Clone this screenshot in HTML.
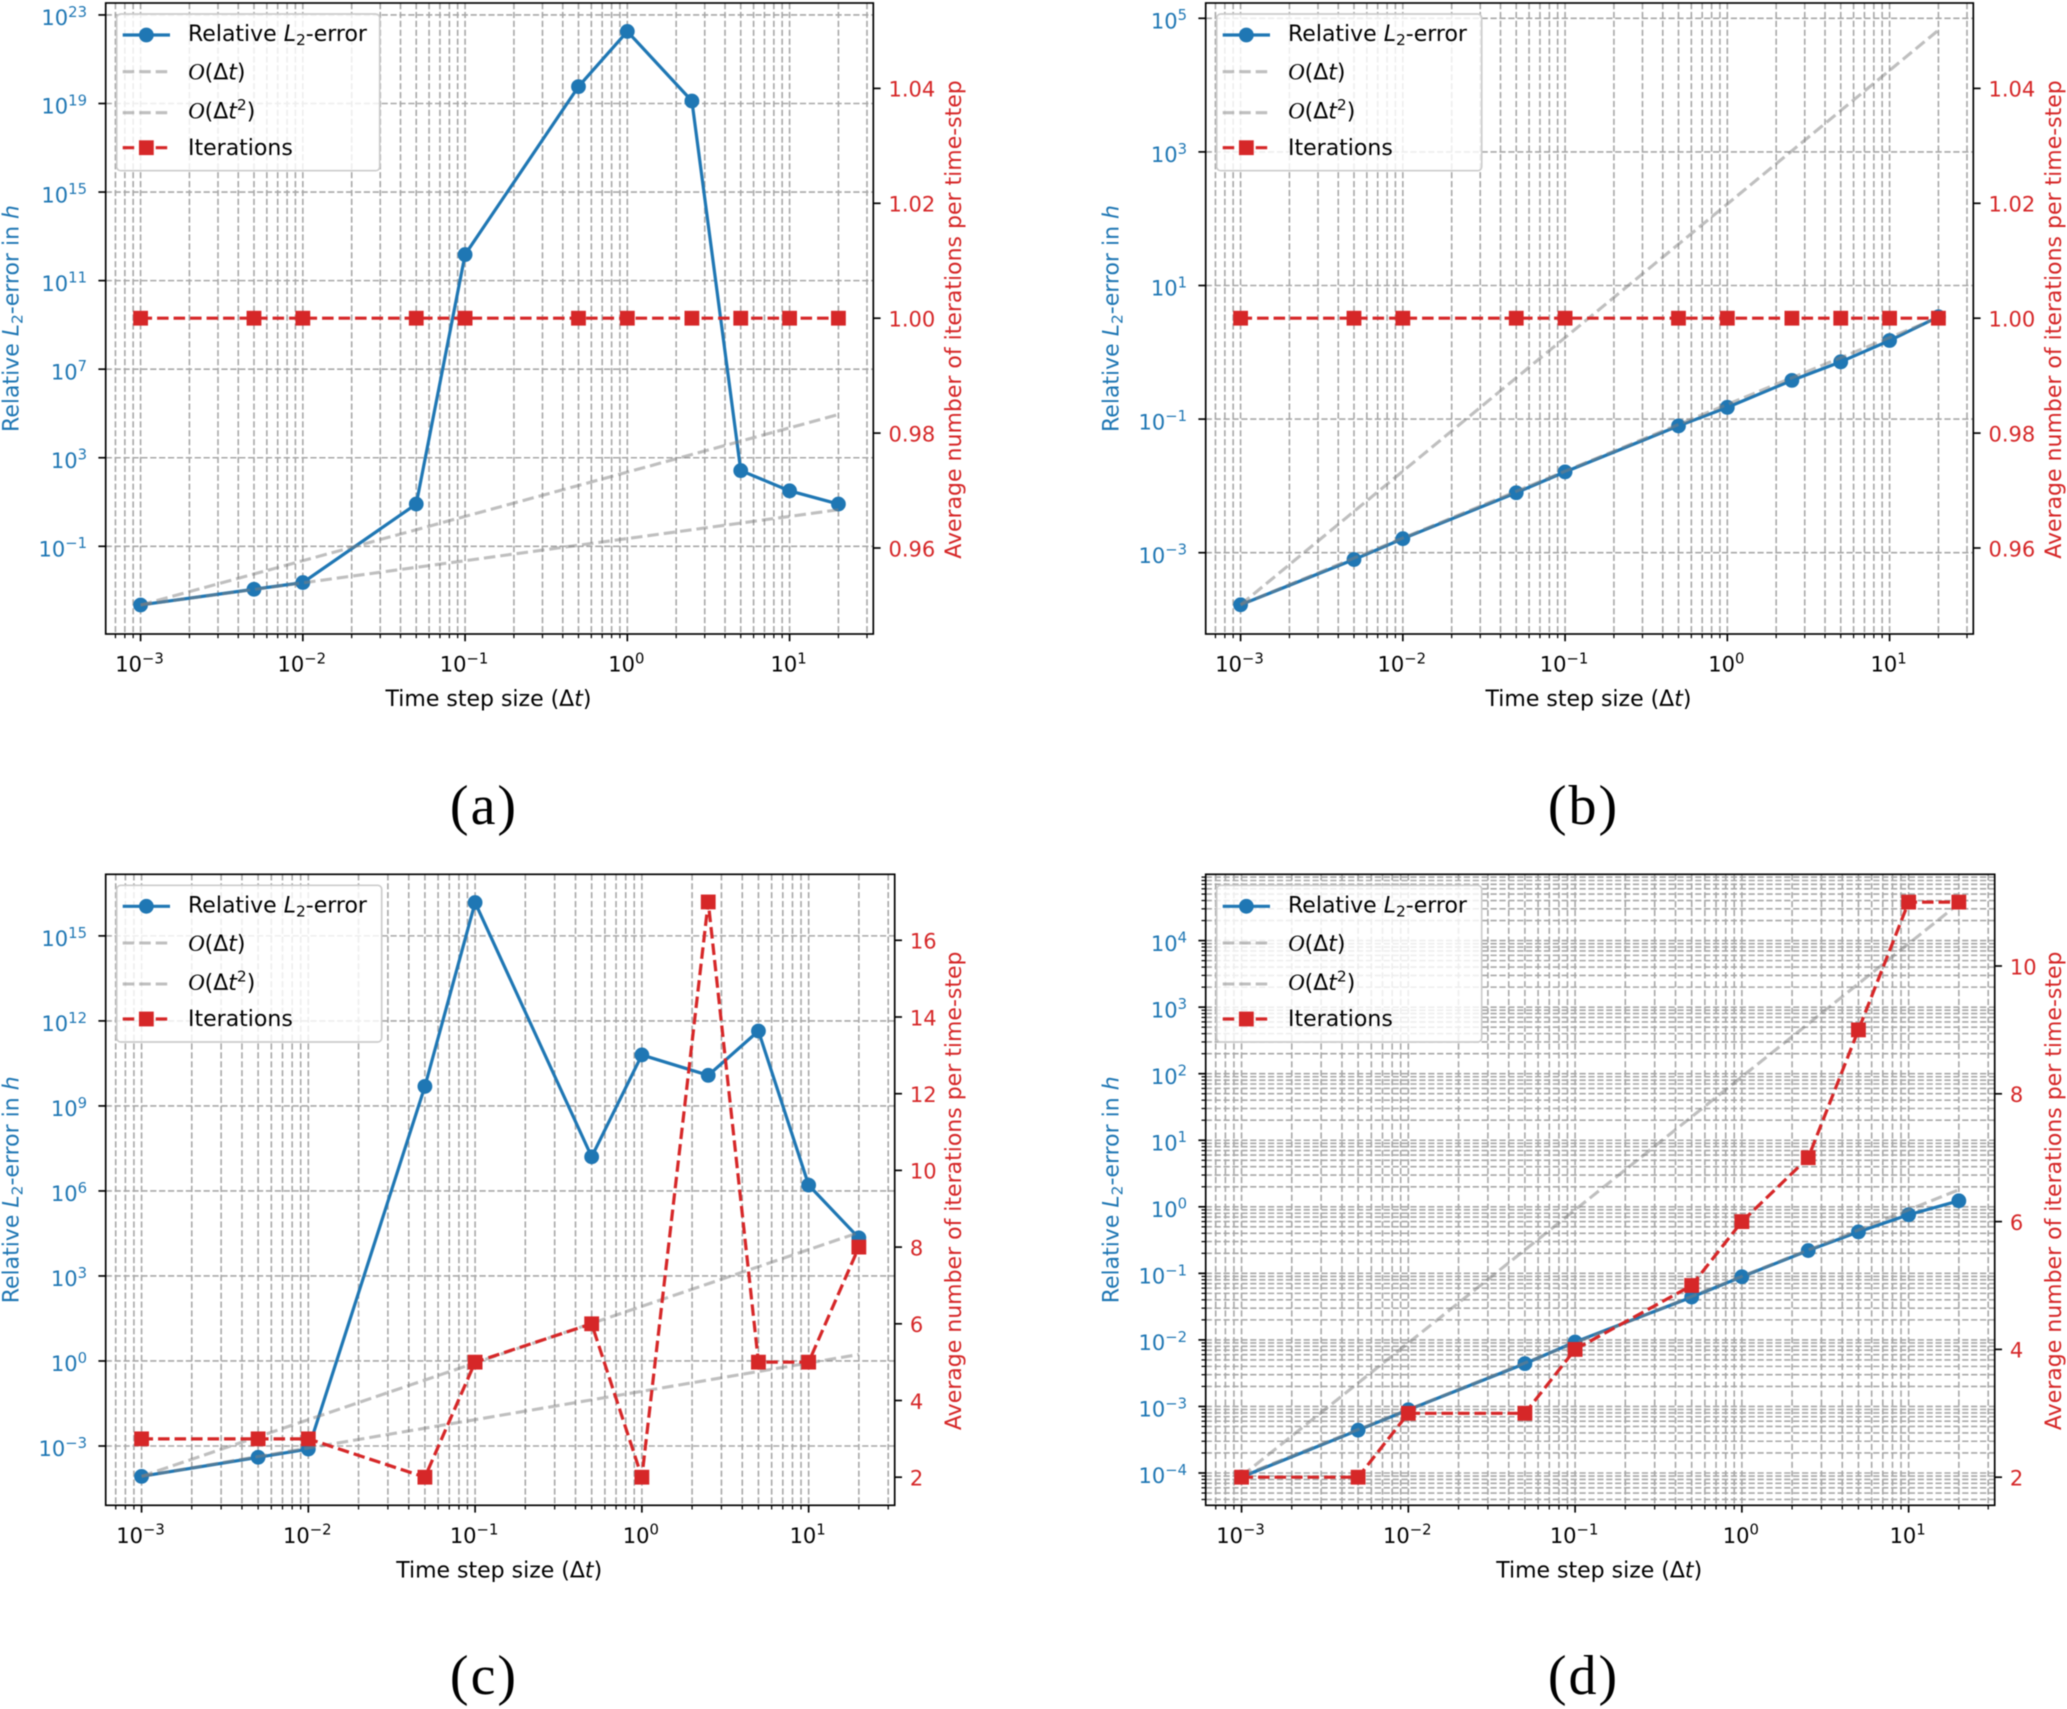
<!DOCTYPE html>
<html lang="en">
<head>
<meta charset="utf-8">
<title>Relative L2-error and iterations versus time step size</title>
<style>
  html, body { margin: 0; padding: 0; background: #fff; }
  #figure { display: block; width: 2067px; height: 1709px; filter: blur(0.65px); }
  text { font-family: "DejaVu Sans", "Liberation Sans", sans-serif; }
  .caption { font-family: "Liberation Serif", serif; font-size: 56px; letter-spacing: 2px; fill: #000; text-anchor: middle; }
</style>
</head>
<body>
<svg id="figure" xmlns="http://www.w3.org/2000/svg" width="2067" height="1709" viewBox="0 0 2067 1709">
  <rect x="0" y="0" width="2067" height="1709" fill="#ffffff"></rect>
  <g id="panel-a"></g>
  <g id="panel-b"></g>
  <g id="panel-c"></g>
  <g id="panel-d"></g>
  <text class="caption" x="484" y="824">(a)</text>
  <text class="caption" x="1583.5" y="824">(b)</text>
  <text class="caption" x="484" y="1694">(c)</text>
  <text class="caption" x="1583.5" y="1694">(d)</text>
</svg>
<script>
const dtValues = [0.001, 0.005, 0.01, 0.05, 0.1, 0.5, 1, 2.5, 5, 10, 20];
const xTickExponents = [-3, -2, -1, 0, 1];

const errorA = [2.24e-4, 1.15e-3, 2.3e-3, 8.1, 1.5e12, 5.8e19, 1.8e22, 1.3e19, 263, 32, 8.1];
const orderOneA = [2.24e-4, 1.12e-3, 2.24e-3, 1.12e-2, 2.24e-2, 0.112, 0.224, 0.56, 1.12, 2.24, 4.48];
const orderTwoA = [2.24e-4, 5.6e-3, 2.24e-2, 0.56, 2.24, 56, 224, 1400, 5600, 22400, 89600];
const iterationsA = [1, 1, 1, 1, 1, 1, 1, 1, 1, 1, 1];
const leftTickExponentsA = [-1, 3, 7, 11, 15, 19, 23];
const rightTicksA = ["0.96", "0.98", "1.00", "1.02", "1.04"];

const errorB = [1.66e-4, 7.9e-4, 1.62e-3, 7.9e-3, 1.62e-2, 7.9e-2, 0.15, 0.38, 0.72, 1.5, 3.4];
const orderOneB = [1.66e-4, 8.3e-4, 1.66e-3, 8.3e-3, 1.66e-2, 8.3e-2, 0.166, 0.415, 0.83, 1.66, 3.32];
const orderTwoB = [1.66e-4, 4.15e-3, 1.66e-2, 0.415, 1.66, 41.5, 166, 1037.5, 4150, 16600, 66400];
const iterationsB = [1, 1, 1, 1, 1, 1, 1, 1, 1, 1, 1];
const leftTickExponentsB = [-3, -1, 1, 3, 5];
const rightTicksB = ["0.96", "0.98", "1.00", "1.02", "1.04"];

const errorC = [8.5e-5, 4e-4, 7.8e-4, 4.9e9, 1.5e16, 1.6e7, 6.3e10, 1.2e10, 4.4e11, 1.6e6, 2.2e4];
const orderOneC = [8.5e-5, 4.25e-4, 8.5e-4, 4.25e-3, 8.5e-3, 4.25e-2, 0.085, 0.2125, 0.425, 0.85, 1.7];
const orderTwoC = [8.5e-5, 2.125e-3, 8.5e-3, 0.2125, 0.85, 21.25, 85, 531, 2125, 8500, 34000];
const iterationsC = [3, 3, 3, 2, 5, 6, 2, 17, 5, 5, 8];
const leftTickExponentsC = [-3, 0, 3, 6, 9, 12, 15];
const rightTicksC = ["2", "4", "6", "8", "10", "12", "14", "16"];

const errorD = [8.7e-5, 4.4e-4, 8.9e-4, 4.4e-3, 9.3e-3, 4.4e-2, 8.9e-2, 0.22, 0.42, 0.76, 1.23];
const orderOneD = [9e-5, 4.5e-4, 9e-4, 4.5e-3, 9e-3, 4.5e-2, 0.09, 0.225, 0.45, 0.9, 1.8];
const orderTwoD = [9e-5, 2.25e-3, 9e-3, 0.225, 0.9, 22.5, 90, 562, 2250, 9000, 36000];
const iterationsD = [2, 2, 3, 3, 4, 5, 6, 7, 9, 11, 11];
const leftTickExponentsD = [-4, -3, -2, -1, 0, 1, 2, 3, 4];
const rightTicksD = ["2", "4", "6", "8", "10"];

const minorMultiples = [2, 3, 4, 5, 6, 7, 8, 9];

const SVG_NS = "http://www.w3.org/2000/svg";
const BLUE = "#1f77b4";
const RED = "#d62728";
const GRID = "#a8a8a8";

function svgEl(parent, tag, attrs) {
  const el = document.createElementNS(SVG_NS, tag);
  for (const k in attrs) el.setAttribute(k, attrs[k]);
  parent.appendChild(el);
  return el;
}

function addRuns(textEl, runs) {
  runs.forEach(function (r) {
    const s = document.createElementNS(SVG_NS, "tspan");
    if (r.size) s.setAttribute("font-size", r.size);
    if (r.dy) s.setAttribute("dy", r.dy);
    if (r.italic) s.setAttribute("font-style", "italic");
    if (r.serif) s.setAttribute("font-family", "Liberation Serif, serif");
    s.textContent = r.t;
    textEl.appendChild(s);
  });
}

function powerRuns(exp) {
  const label = exp < 0 ? "\u2212" + Math.abs(exp) : String(exp);
  return [{ t: "10" }, { t: label, size: 14.8, dy: -8.3 }];
}

const errorLabelRuns = [
  { t: "Relative " }, { t: "L", italic: true }, { t: "2", size: 15.4, dy: 4 }, { t: "-error", dy: -4 }
];

function drawPanel(g, p) {
  const TICK_FS = 21;
  const FS = 22;
  const xDecade = (p.right - p.left) / 4.731;
  const x0 = p.left + 0.215 * xDecade;
  const xPx = function (v) { return x0 + (Math.log10(v) + 3) * xDecade; };
  const yPx = function (v) { return p.yRefPx - (Math.log10(v) - p.yRefLog) * p.yDecade; };
  const rPx = function (v) { return p.rRefPx - (v - p.rRefVal) * p.rUnit; };

  const grid = svgEl(g, "g", {});
  
  
  const ticks = svgEl(g, "g", {});
  
  

  const gridAttrs = function (x1, y1, x2, y2) {
    return { x1: x1, y1: y1, x2: x2, y2: y2, stroke: GRID, "stroke-width": 1.6, "stroke-dasharray": "6.2 2.7" };
  };

  // vertical grid and x ticks
  for (let e = -4; e <= 1; e++) {
    if (e >= -3) {
      const px = xPx(Math.pow(10, e));
      const major = svgEl(grid, "line", gridAttrs(px, p.top, px, p.bottom));
      
      
      const t = svgEl(ticks, "line", { x1: px, y1: p.bottom, x2: px, y2: p.bottom + 7.3, stroke: "#000", "stroke-width": 1.67 });
      
      
    }
    minorMultiples.forEach(function (m) {
      const px = xPx(m * Math.pow(10, e));
      if (px <= p.left + 0.5 || px >= p.right - 0.5) return;
      const l = svgEl(grid, "line", gridAttrs(px, p.top, px, p.bottom));
      
      
      const t = svgEl(ticks, "line", { x1: px, y1: p.bottom, x2: px, y2: p.bottom + 4.2, stroke: "#000", "stroke-width": 1.25 });
      
      
    });
  }

  // horizontal grid and left ticks
  p.leftTicks.forEach(function (e) {
    const py = yPx(Math.pow(10, e));
    const l = svgEl(grid, "line", gridAttrs(p.left, py, p.right, py));
    
    
    const t = svgEl(ticks, "line", { x1: p.left - 7.3, y1: py, x2: p.left, y2: py, stroke: "#000", "stroke-width": 1.67 });
    
    
    const lab = svgEl(g, "text", { x: p.left - 18.7, y: py + 10.2, "text-anchor": "end", fill: BLUE, "font-size": TICK_FS });
    
    
    addRuns(lab, powerRuns(e));
  });
  if (p.yMinor) {
    for (let e = -5; e <= 5; e++) {
      minorMultiples.forEach(function (m) {
        const py = yPx(m * Math.pow(10, e));
        if (py <= p.top + 0.5 || py >= p.bottom - 0.5) return;
        const l = svgEl(grid, "line", gridAttrs(p.left, py, p.right, py));
        
        
        const t = svgEl(ticks, "line", { x1: p.left - 4.2, y1: py, x2: p.left, y2: py, stroke: "#000", "stroke-width": 1.25 });
        
        
      });
    }
  }

  // x tick labels
  xTickExponents.forEach(function (e) {
    const lab = svgEl(g, "text", { x: xPx(Math.pow(10, e)) - 1, y: p.bottom + 37.6, "text-anchor": "middle", fill: "#000", "font-size": TICK_FS });
    
    
    addRuns(lab, powerRuns(e));
  });

  // error series
  const pts = function (series, yFn) {
    return series.map(function (v, i) { return xPx(dtValues[i]).toFixed(2) + "," + yFn(v).toFixed(2); }).join(" ");
  };
  const errLine = svgEl(g, "polyline", { points: pts(p.error, yPx), fill: "none", stroke: BLUE, "stroke-width": 3.2, "stroke-linejoin": "round" });
  
  
  p.error.forEach(function (v, i) {
    const c = svgEl(g, "circle", { cx: xPx(dtValues[i]), cy: yPx(v), r: 7.4, fill: BLUE });
    
    
  });

  // reference slopes
  const refOne = svgEl(g, "polyline", { points: pts(p.orderOne, yPx), fill: "none", stroke: "#808080", "stroke-opacity": 0.5, "stroke-width": 3.1, "stroke-dasharray": "11.5 5" });
  
  
  const refTwo = svgEl(g, "polyline", { points: pts(p.orderTwo, yPx), fill: "none", stroke: "#808080", "stroke-opacity": 0.5, "stroke-width": 3.1, "stroke-dasharray": "11.5 5" });
  
  

  // legend
  const ly = p.top + 11;
  const legend = svgEl(g, "g", {});
  
  
  const box = svgEl(legend, "rect", { x: p.left + 11, y: ly, width: p.legendWidth, height: 156.7, rx: 4, fill: "#ffffff", "fill-opacity": 0.8, stroke: "#cccccc", "stroke-width": 1.67 });
  
  
  const lx1 = p.left + 17;
  const lx2 = p.left + 64.3;
  const lmid = (lx1 + lx2) / 2;
  const tx = p.left + 82.3;

  const e1 = svgEl(legend, "line", { x1: lx1, y1: ly + 21, x2: lx2, y2: ly + 21, stroke: BLUE, "stroke-width": 3.2 });
  
  
  const e1m = svgEl(legend, "circle", { cx: lmid, cy: ly + 21, r: 7.4, fill: BLUE });
  
  
  const e1t = svgEl(legend, "text", { x: tx, y: ly + 27, fill: "#000", "font-size": FS });
  
  
  addRuns(e1t, errorLabelRuns);

  const e2 = svgEl(legend, "line", { x1: lx1, y1: ly + 57.7, x2: lx2, y2: ly + 57.7, stroke: "#808080", "stroke-opacity": 0.5, "stroke-width": 3.1, "stroke-dasharray": "11.5 5" });
  
  
  const e2t = svgEl(legend, "text", { x: tx, y: ly + 65.5, fill: "#000", "font-size": FS });
  
  
  addRuns(e2t, [{ t: "O", italic: true, serif: true, size: 23 }, { t: "(\u0394" }, { t: "t", italic: true }, { t: ")" }]);

  const e3 = svgEl(legend, "line", { x1: lx1, y1: ly + 98.7, x2: lx2, y2: ly + 98.7, stroke: "#808080", "stroke-opacity": 0.5, "stroke-width": 3.1, "stroke-dasharray": "11.5 5" });
  
  
  const e3t = svgEl(legend, "text", { x: tx, y: ly + 104.5, fill: "#000", "font-size": FS });
  
  
  addRuns(e3t, [{ t: "O", italic: true, serif: true, size: 23 }, { t: "(\u0394" }, { t: "t", italic: true }, { t: "2", size: 15.4, dy: -8.3 }, { t: ")", dy: 8.3 }]);

  const e4 = svgEl(legend, "line", { x1: lx1, y1: ly + 133.7, x2: lx2, y2: ly + 133.7, stroke: RED, "stroke-width": 3.2, "stroke-dasharray": "11.5 5" });
  
  
  const e4m = svgEl(legend, "rect", { x: lmid - 7.4, y: ly + 126.3, width: 14.8, height: 14.8, fill: RED });
  
  
  const e4t = svgEl(legend, "text", { x: tx, y: ly + 140.8, fill: "#000", "font-size": FS });
  
  
  addRuns(e4t, [{ t: "Iterations" }]);

  // iterations series (twin axis, on top)
  const itLine = svgEl(g, "polyline", { points: pts(p.iterations, rPx), fill: "none", stroke: RED, "stroke-width": 3.2, "stroke-dasharray": "11.5 5" });
  
  
  p.iterations.forEach(function (v, i) {
    const s = svgEl(g, "rect", { x: xPx(dtValues[i]) - 7.4, y: rPx(v) - 7.4, width: 14.8, height: 14.8, fill: RED });
    
    
  });

  // right ticks
  p.rightTicks.forEach(function (label) {
    const py = rPx(parseFloat(label));
    const t = svgEl(ticks, "line", { x1: p.right, y1: py, x2: p.right + 7.3, y2: py, stroke: "#000", "stroke-width": 1.67 });
    
    
    const lab = svgEl(g, "text", { x: p.right + 15.2, y: py + 8.3, fill: RED, "font-size": TICK_FS });
    
    
    lab.textContent = label;
  });

  // frame
  const frame = svgEl(g, "rect", { x: p.left, y: p.top, width: p.right - p.left, height: p.bottom - p.top, fill: "none", stroke: "#000", "stroke-width": 1.67 });
  
  

  // axis titles
  const cx = (p.left + p.right) / 2;
  const cy = (p.top + p.bottom) / 2;
  const xt = svgEl(g, "text", { x: cx - 1, y: p.bottom + 72, "text-anchor": "middle", fill: "#000", "font-size": FS });
  
  
  addRuns(xt, [{ t: "Time step size (\u0394" }, { t: "t", italic: true }, { t: ")" }]);

  const yt = svgEl(g, "text", { x: p.leftTitleX, y: cy, "text-anchor": "middle", fill: BLUE, "font-size": FS, transform: "rotate(-90 " + p.leftTitleX + " " + cy + ")" });
  
  
  addRuns(yt, errorLabelRuns.concat([{ t: " in " }, { t: "h", italic: true }]));

  const ry = cy + 1;
  const rt = svgEl(g, "text", { x: p.rightTitleX, y: ry, "text-anchor": "middle", fill: RED, "font-size": FS, transform: "rotate(-90 " + p.rightTitleX + " " + ry + ")" });
  
  
  rt.textContent = "Average number of iterations per time-step";
}

drawPanel(document.getElementById("panel-a"), {
  left: 105.7, right: 873.3, top: 3, bottom: 634, legendWidth: 263,
  yRefLog: -1, yRefPx: 546.3, yDecade: 22.14, yMinor: false,
  rRefVal: 1, rRefPx: 318.2, rUnit: 5745,
  error: errorA, orderOne: orderOneA, orderTwo: orderTwoA, iterations: iterationsA,
  leftTicks: leftTickExponentsA, rightTicks: rightTicksA,
  leftTitleX: 18.5, rightTitleX: 961
});
drawPanel(document.getElementById("panel-b"), {
  left: 1205.7, right: 1973.3, top: 3, bottom: 634, legendWidth: 265,
  yRefLog: -3, yRefPx: 552.7, yDecade: 66.8, yMinor: false,
  rRefVal: 1, rRefPx: 318.2, rUnit: 5745,
  error: errorB, orderOne: orderOneB, orderTwo: orderTwoB, iterations: iterationsB,
  leftTicks: leftTickExponentsB, rightTicks: rightTicksB,
  leftTitleX: 1118.5, rightTitleX: 2061
});
drawPanel(document.getElementById("panel-c"), {
  left: 105.7, right: 894.7, top: 874.3, bottom: 1505.3, legendWidth: 265,
  yRefLog: -3, yRefPx: 1446, yDecade: 28.34, yMinor: false,
  rRefVal: 2, rRefPx: 1477.2, rUnit: 38.35,
  error: errorC, orderOne: orderOneC, orderTwo: orderTwoC, iterations: iterationsC,
  leftTicks: leftTickExponentsC, rightTicks: rightTicksC,
  leftTitleX: 18.5, rightTitleX: 961
});
drawPanel(document.getElementById("panel-d"), {
  left: 1205.7, right: 1994.7, top: 874.3, bottom: 1505.3, legendWidth: 265,
  yRefLog: -4, yRefPx: 1473, yDecade: 66.55, yMinor: true,
  rRefVal: 2, rRefPx: 1477.2, rUnit: 63.9,
  error: errorD, orderOne: orderOneD, orderTwo: orderTwoD, iterations: iterationsD,
  leftTicks: leftTickExponentsD, rightTicks: rightTicksD,
  leftTitleX: 1118.5, rightTitleX: 2061
});
</script>
</body>
</html>
